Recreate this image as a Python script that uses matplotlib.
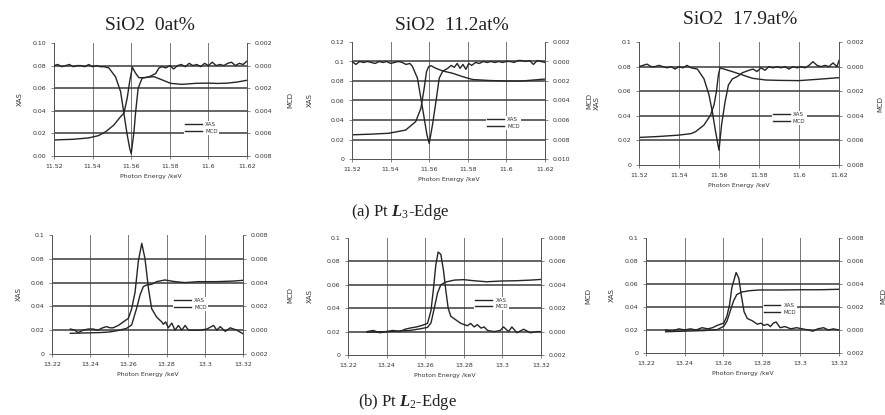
import matplotlib.pyplot as plt

plt.rcParams['mathtext.fontset'] = 'custom'
plt.rcParams['mathtext.rm'] = 'Liberation Serif'
plt.rcParams['mathtext.it'] = 'Liberation Serif:italic:bold'
plt.rcParams['mathtext.bf'] = 'Liberation Serif:bold'

# ---------- Pt L3-edge (photon energy in keV) ----------
titles = ['SiO2  0at%', 'SiO2  11.2at%', 'SiO2  17.9at%']

# SiO2 0at%
l3_e_xas_0 = [11.520, 11.530, 11.538, 11.543, 11.5468, 11.551, 11.5545, 11.5562, 11.5579, 11.5592,
              11.5606, 11.5623, 11.564, 11.5666, 11.5692, 11.5718, 11.5761, 11.5804, 11.5864, 11.5934,
              11.600, 11.605, 11.610, 11.615, 11.620]
l3_xas_0 = [0.0142, 0.0148, 0.0160, 0.0180, 0.0215, 0.0274, 0.0348, 0.0378, 0.0510, 0.0658,
            0.0785, 0.0732, 0.0693, 0.0693, 0.0698, 0.0702, 0.0673, 0.0643, 0.0634, 0.0643,
            0.0645, 0.0642, 0.0645, 0.0655, 0.0670]
l3_e_mcd_0 = [11.520, 11.522, 11.524, 11.526, 11.528, 11.530, 11.532, 11.534, 11.536, 11.538,
              11.540, 11.542, 11.544, 11.546, 11.5484, 11.5519, 11.5545, 11.5562, 11.5579, 11.5592,
              11.5600, 11.5614, 11.5623, 11.5636, 11.5657, 11.5692, 11.5727, 11.5744, 11.576, 11.578,
              11.580, 11.582, 11.584, 11.586, 11.588, 11.590, 11.592, 11.594, 11.596, 11.598,
              11.600, 11.602, 11.604, 11.606, 11.608, 11.610, 11.612, 11.614, 11.616, 11.618, 11.620]
l3_mcd_0 = [0.0000, 0.0001, -0.0001, 0.0000, 0.0001, -0.0001, 0.0000, 0.0000, -0.0001, 0.0001,
            -0.0001, 0.0000, -0.0001, -0.0001, -0.0002, -0.0010, -0.0023, -0.0042, -0.0061, -0.0073,
            -0.0078, -0.0059, -0.0041, -0.0020, -0.0011, -0.0010, -0.0007, -0.0002, -0.0001, -0.0002,
            0.0000, -0.0003, 0.0000, 0.0001, -0.0001, 0.0002, 0.0000, 0.0001, -0.0001, 0.0002,
            0.0000, 0.0003, 0.0000, 0.0001, 0.0000, 0.0002, 0.0003, 0.0000, 0.0002, 0.0001, 0.0004]

# SiO2 11.2at%
l3_e_xas_11 = [11.520, 11.530, 11.5391, 11.5478, 11.553, 11.5557, 11.5574, 11.5586, 11.5597, 11.5609,
               11.5635, 11.567, 11.5722, 11.5774, 11.5826, 11.5913, 11.600, 11.608, 11.614, 11.620]
l3_xas_11 = [0.0248, 0.0255, 0.0264, 0.0297, 0.0383, 0.0520, 0.0725, 0.0895, 0.0947, 0.0957,
             0.0930, 0.0903, 0.0879, 0.0844, 0.0815, 0.0805, 0.0800, 0.0800, 0.0810, 0.0820]
l3_e_mcd_11 = [11.520, 11.522, 11.524, 11.526, 11.528, 11.530, 11.532, 11.534, 11.536, 11.538,
               11.540, 11.542, 11.544, 11.546, 11.548, 11.550, 11.5513, 11.5539, 11.5557, 11.5574,
               11.5588, 11.5600, 11.5617, 11.5635, 11.5652, 11.567, 11.5696, 11.5714, 11.573, 11.5745,
               11.576, 11.5775, 11.579, 11.5805, 11.582, 11.584, 11.586, 11.588, 11.590, 11.592,
               11.594, 11.596, 11.598, 11.600, 11.602, 11.604, 11.606, 11.608, 11.610, 11.612,
               11.614, 11.616, 11.618, 11.620]
l3_mcd_11 = [0.0000, -0.0003, 0.0000, -0.0001, 0.0000, -0.0001, -0.0002, 0.0000, -0.0001, 0.0000,
             -0.0002, -0.0001, 0.0000, -0.0001, -0.0003, -0.0002, -0.0005, -0.0017, -0.0038, -0.0058,
             -0.0075, -0.0084, -0.0065, -0.0041, -0.0017, -0.0010, -0.0007, -0.0004, -0.0006, -0.0002,
             -0.0007, -0.0003, -0.0008, -0.0002, -0.0004, -0.0001, -0.0002, 0.0000, -0.0001, 0.0000,
             -0.0001, 0.0000, -0.0001, 0.0000, 0.0000, -0.0001, 0.0001, 0.0001, 0.0000, 0.0001,
             -0.0003, 0.0001, 0.0000, -0.0001]

# SiO2 17.9at%
l3_e_xas_17 = [11.520, 11.530, 11.540, 11.546, 11.5483, 11.5525, 11.5558, 11.5575, 11.5587, 11.5597,
               11.5605, 11.5625, 11.5667, 11.5717, 11.5767, 11.5833, 11.590, 11.600, 11.6096, 11.620]
l3_xas_17 = [0.0224, 0.0232, 0.0243, 0.0255, 0.0271, 0.0325, 0.0407, 0.0488, 0.0596, 0.0732,
             0.0790, 0.0780, 0.0759, 0.0732, 0.0705, 0.0691, 0.0688, 0.0686, 0.0697, 0.0710]
l3_e_mcd_17 = [11.520, 11.522, 11.524, 11.526, 11.528, 11.530, 11.532, 11.534, 11.536, 11.538,
               11.540, 11.542, 11.544, 11.546, 11.5492, 11.5525, 11.555, 11.5567, 11.5583, 11.5600,
               11.5613, 11.563, 11.5647, 11.5667, 11.5692, 11.5717, 11.575, 11.577, 11.579, 11.581,
               11.583, 11.585, 11.587, 11.589, 11.591, 11.593, 11.595, 11.597, 11.599, 11.601,
               11.603, 11.605, 11.607, 11.609, 11.611, 11.613, 11.615, 11.617, 11.619, 11.620]
l3_mcd_17 = [0.0000, 0.0001, 0.0002, 0.0000, 0.0000, 0.0001, 0.0000, -0.0001, 0.0000, -0.0002,
             0.0000, -0.0001, 0.0001, -0.0001, -0.0002, -0.0010, -0.0023, -0.0037, -0.0053, -0.0068,
             -0.0047, -0.0029, -0.0015, -0.0010, -0.0008, -0.0005, -0.0003, -0.0002, -0.0004, -0.0001,
             -0.0003, 0.0000, -0.0001, 0.0000, -0.0001, 0.0000, -0.0002, 0.0000, -0.0001, 0.0000,
             -0.0001, 0.0001, 0.0004, 0.0001, 0.0000, 0.0001, 0.0000, 0.0003, 0.0000, 0.0005]

# ---------- Pt L2-edge ----------
l2_e_xas_0 = [13.2296, 13.235, 13.240, 13.245, 13.250, 13.2538, 13.2565, 13.2591, 13.2617, 13.2643,
              13.2661, 13.2678, 13.2696, 13.2722, 13.2748, 13.2791, 13.2844, 13.2896, 13.2965, 13.3063,
              13.3151, 13.320]
l2_xas_0 = [0.0174, 0.0176, 0.0178, 0.0180, 0.0185, 0.0195, 0.0205, 0.0216, 0.0244, 0.0384,
            0.0496, 0.0566, 0.0580, 0.0586, 0.0608, 0.0622, 0.0608, 0.0600, 0.0608, 0.0608,
            0.0613, 0.0619]
l2_e_mcd_0 = [13.2296, 13.2319, 13.2337, 13.2363, 13.239, 13.2415, 13.244, 13.2465, 13.2485, 13.2505,
              13.252, 13.2547, 13.2565, 13.260, 13.2617, 13.2635, 13.2652, 13.2670, 13.2687, 13.2705,
              13.2722, 13.2748, 13.2774, 13.2783, 13.2795, 13.2809, 13.2827, 13.2844, 13.2862, 13.2879,
              13.2897, 13.2915, 13.2941, 13.2976, 13.3011, 13.3046, 13.3063, 13.3081, 13.3107, 13.3133,
              13.3168, 13.320]
l2_mcd_0 = [0.0001, 0.0000, -0.0002, 0.0000, 0.0001, 0.0001, 0.0000, 0.0002, 0.0003, 0.0002,
            0.0002, 0.0004, 0.0006, 0.0010, 0.0018, 0.0032, 0.0058, 0.0073, 0.0060, 0.0035,
            0.0018, 0.0011, 0.0007, 0.0005, 0.0007, 0.0002, 0.0006, 0.0000, 0.0004, 0.0000,
            0.0004, 0.0000, 0.0000, 0.0000, 0.0001, 0.0004, 0.0000, 0.0003, -0.0001, 0.0002,
            0.0000, -0.0003]

l2_e_xas_11 = [13.2299, 13.2417, 13.2521, 13.2578, 13.2612, 13.263, 13.2647, 13.2664, 13.2681, 13.2707,
               13.275, 13.280, 13.285, 13.2919, 13.2989, 13.3075, 13.3145, 13.320]
l2_xas_11 = [0.0195, 0.0201, 0.0210, 0.0225, 0.0236, 0.0274, 0.0400, 0.0530, 0.0600, 0.0624,
             0.0640, 0.0644, 0.0635, 0.0626, 0.0632, 0.0635, 0.0640, 0.0646]
l2_e_mcd_11 = [13.2299, 13.233, 13.2365, 13.2399, 13.2434, 13.2469, 13.2495, 13.2521, 13.2555, 13.2578,
               13.2612, 13.263, 13.2643, 13.2655, 13.2667, 13.2681, 13.2695, 13.2707, 13.2719, 13.2733,
               13.2759, 13.2785, 13.2819, 13.2835, 13.2854, 13.287, 13.2889, 13.2905, 13.2923, 13.2957,
               13.2989, 13.3006, 13.3032, 13.3049, 13.3075, 13.311, 13.3145, 13.3179, 13.320]
l2_mcd_11 = [0.0000, 0.0001, -0.0001, 0.0000, 0.0001, 0.0000, 0.0002, 0.0003, 0.0004, 0.0005,
             0.0007, 0.0018, 0.0037, 0.0057, 0.0068, 0.0066, 0.0052, 0.0035, 0.0020, 0.0013,
             0.0010, 0.0007, 0.0005, 0.0007, 0.0004, 0.0006, 0.0003, 0.0004, 0.0001, 0.0000,
             0.0001, 0.0004, 0.0000, 0.0004, -0.0001, 0.0002, -0.0001, 0.0000, 0.0000]

l2_e_xas_17 = [13.2302, 13.240, 13.250, 13.2569, 13.2603, 13.2619, 13.2636, 13.2653, 13.267, 13.2695,
               13.2738, 13.2789, 13.290, 13.300, 13.310, 13.320]
l2_xas_17 = [0.0185, 0.0190, 0.0195, 0.0203, 0.0232, 0.0275, 0.0362, 0.0450, 0.0507, 0.0530,
             0.0542, 0.0548, 0.0548, 0.0550, 0.0550, 0.0554]
l2_e_mcd_17 = [13.2302, 13.2335, 13.237, 13.240, 13.243, 13.246, 13.249, 13.252, 13.2545, 13.2569,
               13.2603, 13.2619, 13.2633, 13.2645, 13.2667, 13.2681, 13.2693, 13.2708, 13.2725, 13.2751,
               13.2777, 13.2795, 13.2811, 13.283, 13.2845, 13.286, 13.2874, 13.2895, 13.292, 13.295,
               13.298, 13.301, 13.304, 13.3065, 13.309, 13.312, 13.3145, 13.317, 13.320]
l2_mcd_17 = [0.0000, -0.0001, 0.0001, 0.0000, 0.0001, 0.0000, 0.0002, 0.0001, 0.0002, 0.0004,
             0.0006, 0.0012, 0.0022, 0.0037, 0.0050, 0.0045, 0.0031, 0.0016, 0.0010, 0.0008,
             0.0005, 0.0006, 0.0004, 0.0005, 0.0003, 0.0006, 0.0007, 0.0002, 0.0003, 0.0001,
             0.0002, 0.0001, 0.0000, -0.0001, 0.0001, 0.0002, 0.0000, 0.0001, 0.0000]

# axis ticks
l3_xticks = [11.52, 11.54, 11.56, 11.58, 11.60, 11.62]
l3_xticklabels = ['11.52', '11.54', '11.56', '11.58', '11.6', '11.62']
l2_xticks = [13.22, 13.24, 13.26, 13.28, 13.30, 13.32]
l2_xticklabels = ['13.22', '13.24', '13.26', '13.28', '13.3', '13.32']

xas_ticks_a = [0.00, 0.02, 0.04, 0.06, 0.08, 0.10]
xas_ticks_b = [0.00, 0.02, 0.04, 0.06, 0.08, 0.10, 0.12]
mcd_ticks_a = [-0.008, -0.006, -0.004, -0.002, 0.000, 0.002]
mcd_ticks_b = [-0.010, -0.008, -0.006, -0.004, -0.002, 0.000, 0.002]
mcd_ticks_c = [-0.002, 0.000, 0.002, 0.004, 0.006, 0.008]

INK = '#262626'
W, H = 885, 415
fig = plt.figure(figsize=(8.85, 4.15), dpi=100)


def rect(x0, y0, x1, y1):
    return [x0 / W, 1 - y1 / H, (x1 - x0) / W, (y1 - y0) / H]


def panel(box, ex, xas, em, mcd, xt, xtl, yt, ytl, rt, leg, lab_x):
    ax = fig.add_axes(rect(*box))
    ax2 = ax.twinx()
    ax.set_xlim(xt[0], xt[-1])
    ax.set_ylim(yt[0], yt[-1])
    ax2.set_ylim(rt[0], rt[-1])
    ax.set_xticks(xt, xtl)
    ax.set_yticks(yt, ytl)
    ax2.set_yticks(rt, ['%.3f' % abs(t) for t in rt])
    for t in yt[1:-1]:
        ax.axhline(t, color='#3a3a3a', lw=1.1, zorder=1)
    ax.grid(axis='x', color='#777777', lw=0.7)
    ax.set_axisbelow(True)
    for a in (ax, ax2):
        a.spines['top'].set_visible(False)
        for s in ('left', 'right', 'bottom'):
            a.spines[s].set_color('#555555')
            a.spines[s].set_linewidth(0.7)
        a.tick_params(labelsize=4.5, length=2, width=0.5, pad=3.5,
                      colors='#555555', labelcolor='#333333')
    ax.tick_params(axis='x', pad=4)
    l1, = ax.plot(ex, xas, color=INK, lw=1.0, zorder=3)
    l2, = ax2.plot(em, mcd, color=INK, lw=1.0, zorder=3)
    ax.set_xlabel('Photon Energy /keV', fontsize=4.5, color='#333333', labelpad=3)
    lg = ax2.legend([l1, l2], ['XAS', 'MCD'], loc='center left', bbox_to_anchor=leg,
                    fontsize=4, frameon=True, facecolor='white', edgecolor='none',
                    framealpha=1, handlelength=3.0, handletextpad=0.6,
                    labelspacing=0.3, borderpad=0.2)
    for t in lg.get_texts():
        t.set_color('#333333')
    yc = 1 - (box[1] + box[3]) / 2 / H
    fig.text(lab_x[0] / W, yc, 'XAS', rotation=90, fontsize=5, color='#333333',
             ha='center', va='center')
    fig.text(lab_x[1] / W, yc, 'MCD', rotation=90, fontsize=5, color='#333333',
             ha='center', va='center')


fmt2 = ['%.2f' % t for t in xas_ticks_a]
gen_a = ['%g' % t for t in xas_ticks_a]
gen_b = ['%g' % t for t in xas_ticks_b]

panel((54, 43, 247, 156), l3_e_xas_0, l3_xas_0, l3_e_mcd_0, l3_mcd_0,
      l3_xticks, l3_xticklabels, xas_ticks_a, fmt2, mcd_ticks_a, (0.66, 0.25), (20, 290))
panel((352, 42, 545, 159), l3_e_xas_11, l3_xas_11, l3_e_mcd_11, l3_mcd_11,
      l3_xticks, l3_xticklabels, xas_ticks_b, gen_b, mcd_ticks_b, (0.68, 0.31), (310, 589))
panel((639, 42, 839, 165), l3_e_xas_17, l3_xas_17, l3_e_mcd_17, l3_mcd_17,
      l3_xticks, l3_xticklabels, xas_ticks_a, gen_a, mcd_ticks_a, (0.65, 0.38), (597, 880))

panel((52, 235, 243, 354), l2_e_xas_0, l2_xas_0, l2_e_mcd_0, l2_mcd_0,
      l2_xticks, l2_xticklabels, xas_ticks_a, gen_a, mcd_ticks_c, (0.62, 0.42), (19, 290))
panel((348, 238, 541, 355), l2_e_xas_11, l2_xas_11, l2_e_mcd_11, l2_mcd_11,
      l2_xticks, l2_xticklabels, xas_ticks_a, gen_a, mcd_ticks_c, (0.64, 0.44), (310, 588))
panel((646, 238, 839, 353), l2_e_xas_17, l2_xas_17, l2_e_mcd_17, l2_mcd_17,
      l2_xticks, l2_xticklabels, xas_ticks_a, gen_a, mcd_ticks_c, (0.59, 0.385), (612, 883))

# titles and edge captions
for (cx, cy), t in zip([(150, 25), (452, 25), (740, 19)], titles):
    fig.text(cx / W, 1 - cy / H, t, fontsize=14, family='Liberation Serif',
             color='#222222', ha='center', va='center')
fig.text(400 / W, 1 - 212 / H, r'(a) Pt $\mathit{L}_{\mathrm{3}}$-Edge', fontsize=12,
         family='Liberation Serif', color='#222222', ha='center', va='center')
fig.text(408 / W, 1 - 402 / H, r'(b) Pt $\mathit{L}_{\mathrm{2}}$-Edge', fontsize=12,
         family='Liberation Serif', color='#222222', ha='center', va='center')

fig.savefig('out.png', dpi=100, facecolor='white')
